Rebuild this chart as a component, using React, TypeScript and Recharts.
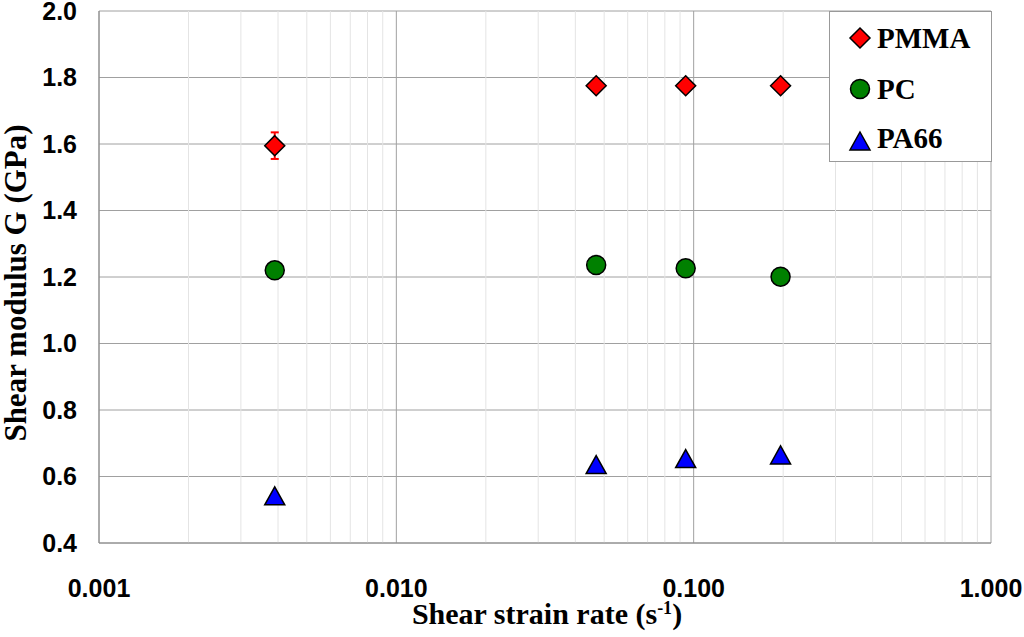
import React from "react";
import {
  ScatterChart,
  Scatter,
  XAxis,
  YAxis,
  CartesianGrid,
  ReferenceLine,
  ErrorBar,
  Legend,
  Label,
} from "recharts";

// Shear strain rates (1/s) and measured shear modulus G (GPa)
const strainRates = [0.0039, 0.047, 0.094, 0.196];
const pmmaG = [1.595, 1.775, 1.775, 1.775];
const pmmaErr = [0.04, 0, 0, 0];
const pcG = [1.22, 1.236, 1.226, 1.201];
const pa66G = [0.536, 0.63, 0.648, 0.659];

const xTicks = [0.001, 0.01, 0.1, 1];
const yTicks = [0.4, 0.6, 0.8, 1.0, 1.2, 1.4, 1.6, 1.8, 2.0];
const decades = [0.001, 0.01, 0.1];
const minorMultipliers = [2, 3, 4, 5, 6, 7, 8, 9];

const pmmaData = strainRates.map((x, i) => ({ x, y: pmmaG[i], err: pmmaErr[i] }));
const pcData = strainRates.map((x, i) => ({ x, y: pcG[i] }));
const pa66Data = strainRates.map((x, i) => ({ x, y: pa66G[i] }));

const minorX = decades.flatMap((d) => minorMultipliers.map((m) => m * d));

const SANS = "'Liberation Sans', Arial, sans-serif";
const SERIF = "'Liberation Serif', 'Times New Roman', serif";

function Diamond({ cx, cy }: any) {
  const r = 10;
  return (
    <polygon
      points={`${cx},${cy - r} ${cx + r},${cy} ${cx},${cy + r} ${cx - r},${cy}`}
      fill="#ff0000"
      stroke="#000"
      strokeWidth={1.5}
    />
  );
}

function Dot({ cx, cy }: any) {
  return <circle cx={cx} cy={cy} r={9.5} fill="#008000" stroke="#000" strokeWidth={1.5} />;
}

function Triangle({ cx, cy }: any) {
  return (
    <polygon
      points={`${cx},${cy - 11} ${cx + 10},${cy + 7} ${cx - 10},${cy + 7}`}
      fill="#0000ff"
      stroke="#000"
      strokeWidth={1.5}
    />
  );
}

function LegendBox() {
  const rows = [
    { name: "PMMA", Shape: Diamond, my: 27, ty: 37 },
    { name: "PC", Shape: Dot, my: 78, ty: 88 },
    { name: "PA66", Shape: Triangle, my: 132, ty: 137 },
  ];
  return (
    <svg width={163} height={151} style={{ display: "block" }}>
      <rect x={0.5} y={0.5} width={162} height={150} fill="#fff" stroke="#999" />
      {rows.map(({ name, Shape, my, ty }) => (
        <g key={name}>
          <Shape cx={31} cy={my} />
          <text x={48} y={ty} fontFamily={SERIF} fontWeight="bold" fontSize={29} fill="#000">
            {name}
          </text>
        </g>
      ))}
    </svg>
  );
}

function XTitle() {
  return (
    <text x={547} y={624} textAnchor="middle" fontFamily={SERIF} fontWeight="bold" fontSize={30} fill="#000">
      Shear strain rate (s
      <tspan dy={-10} fontSize={18}>-1</tspan>
      <tspan dy={10}>)</tspan>
    </text>
  );
}

function YTitle() {
  return (
    <text
      x={26}
      y={283}
      transform="rotate(-90, 26, 283)"
      textAnchor="middle"
      fontFamily={SERIF}
      fontWeight="bold"
      fontSize={31}
      fill="#000"
    >
      Shear modulus G (GPa)
    </text>
  );
}

const tickStyle = { fill: "#000", fontSize: 25, fontWeight: "bold" as const, fontFamily: SANS };

export default function App() {
  return (
    <div style={{ position: "absolute", left: 0, top: 0, background: "#fff" }}>
      <ScatterChart width={1024} height={637} margin={{ top: 11, right: 33, bottom: 0, left: 0 }}>
        {minorX.map((v) => (
          <ReferenceLine key={v} x={v} stroke="#e4e4e4" strokeWidth={1} />
        ))}
        <CartesianGrid stroke="#a0a0a0" />
        <XAxis
          dataKey="x"
          type="number"
          scale="log"
          domain={[0.001, 1]}
          ticks={xTicks}
          allowDataOverflow
          height={94}
          stroke="#888"
          tickLine={false}
          tickMargin={30}
          tick={tickStyle}
          tickFormatter={(v: number) => v.toFixed(3)}
          interval={0}
        >
          <Label content={<XTitle />} />
        </XAxis>
        <YAxis
          dataKey="y"
          type="number"
          domain={[0.4, 2.0]}
          ticks={yTicks}
          width={99}
          stroke="#888"
          tickLine={false}
          tickMargin={16}
          tick={tickStyle}
          tickFormatter={(v: number) => v.toFixed(1)}
          interval={0}
        >
          <Label content={<YTitle />} />
        </YAxis>
        <Scatter name="PMMA" data={pmmaData} shape={<Diamond />} isAnimationActive={false}>
          <ErrorBar dataKey="err" direction="y" width={4} stroke="#ff0000" strokeWidth={2} />
        </Scatter>
        <Scatter name="PC" data={pcData} shape={<Dot />} isAnimationActive={false} />
        <Scatter name="PA66" data={pa66Data} shape={<Triangle />} isAnimationActive={false} />
        <Legend
          layout="horizontal"
          verticalAlign="middle"
          align="center"
          content={() => <LegendBox />}
          wrapperStyle={{ top: 11, left: 829, width: 163, height: 151 }}
        />
      </ScatterChart>
    </div>
  );
}
